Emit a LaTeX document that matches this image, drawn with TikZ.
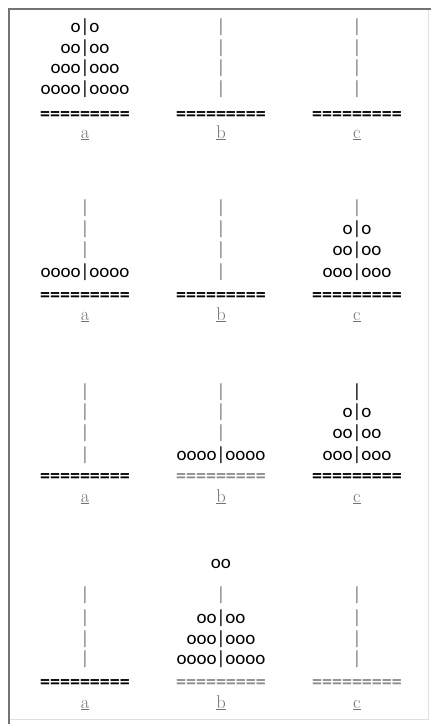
\documentclass[tikz,border=0pt]{standalone}
\usepackage{fontspec}
\newfontfamily\hdisk{Carlito}
\tikzset{
  diskline/.style={anchor=base, inner sep=0pt, font=\hdisk\fontsize{19}{21}\selectfont, text=black},
  pegline/.style={diskline, text=black!50},
  groundline/.style={anchor=base, inner sep=0pt, font=\hdisk\bfseries\fontsize{20}{22}\selectfont, text=black},
  fadedground/.style={groundline, text=black!45},
  pegname/.style={anchor=base, inner sep=0pt, font=\fontsize{18.5}{20}\selectfont, text=black!55},
  frameline/.style={draw=black!55, line width=1.3pt},
  faintframe/.style={draw=black!12, line width=0.8pt}
}
\begin{document}
\begin{tikzpicture}[x=1pt,y=-1pt]
\useasboundingbox (0,0) rectangle (431,724);
% frame
\coordinate (fbl) at (9,724);
\coordinate (ftl) at (9,9);
\coordinate (ftr) at (431,9);
\coordinate (frt) at (428,9);
\coordinate (frb) at (428,719);
\coordinate (fbb) at (9,719);
\draw[faintframe] (frt) -- (frb) -- (fbb);
\draw[frameline] (fbl) -- (ftl) -- (ftr);

% ---------- Row 1 ----------
\node[diskline] (r1a1) at (85,32) {o|o};
\node[diskline] (r1a2) at (85,53) {oo|oo};
\node[diskline] (r1a3) at (85,73) {ooo|ooo};
\node[diskline] (r1a4) at (85,94) {oooo|oooo};
\node[pegline] (r1b1) at (221,32) {|};
\node[pegline] (r1b2) at (221,53) {|};
\node[pegline] (r1b3) at (221,73) {|};
\node[pegline] (r1b4) at (221,94) {|};
\node[pegline] (r1c1) at (357,32) {|};
\node[pegline] (r1c2) at (357,53) {|};
\node[pegline] (r1c3) at (357,73) {|};
\node[pegline] (r1c4) at (357,94) {|};
\node[groundline] (r1ga) at (85,120) {=========};
\node[groundline] (r1gb) at (221,120) {=========};
\node[groundline] (r1gc) at (357,120) {=========};
\node[pegname] (r1la) at (85,138) {\underline{a}};
\node[pegname] (r1lb) at (221,138) {\underline{b}};
\node[pegname] (r1lc) at (357,138) {\underline{c}};

% ---------- Row 2 ----------
\node[pegline] (r2a1) at (85,213) {|};
\node[pegline] (r2a2) at (85,234) {|};
\node[pegline] (r2a3) at (85,255) {|};
\node[diskline] (r2a4) at (85,277) {oooo|oooo};
\node[pegline] (r2b1) at (221,213) {|};
\node[pegline] (r2b2) at (221,234) {|};
\node[pegline] (r2b3) at (221,255) {|};
\node[pegline] (r2b4) at (221,277) {|};
\node[pegline] (r2c1) at (357,213) {|};
\node[diskline] (r2c2) at (357,234) {o|o};
\node[diskline] (r2c3) at (357,255) {oo|oo};
\node[diskline] (r2c4) at (357,277) {ooo|ooo};
\node[groundline] (r2ga) at (85,301) {=========};
\node[groundline] (r2gb) at (221,301) {=========};
\node[groundline] (r2gc) at (357,301) {=========};
\node[pegname] (r2la) at (85,320) {\underline{a}};
\node[pegname] (r2lb) at (221,320) {\underline{b}};
\node[pegname] (r2lc) at (357,320) {\underline{c}};

% ---------- Row 3 ----------
\node[pegline] (r3a1) at (85,397) {|};
\node[pegline] (r3a2) at (85,417) {|};
\node[pegline] (r3a3) at (85,438) {|};
\node[pegline] (r3a4) at (85,460) {|};
\node[pegline] (r3b1) at (221,397) {|};
\node[pegline] (r3b2) at (221,417) {|};
\node[pegline] (r3b3) at (221,438) {|};
\node[diskline] (r3b4) at (221,460) {oooo|oooo};
\node[diskline] (r3c1) at (357,397) {|};
\node[diskline] (r3c2) at (357,417) {o|o};
\node[diskline] (r3c3) at (357,438) {oo|oo};
\node[diskline] (r3c4) at (357,460) {ooo|ooo};
\node[groundline] (r3ga) at (85,482) {=========};
\node[fadedground] (r3gb) at (221,482) {=========};
\node[groundline] (r3gc) at (357,482) {=========};
\node[pegname] (r3la) at (85,502) {\underline{a}};
\node[pegname] (r3lb) at (221,502) {\underline{b}};
\node[pegname] (r3lc) at (357,502) {\underline{c}};

% ---------- Row 4 ----------
\node[diskline] (r4lift) at (221,568) {oo};
\node[pegline] (r4a1) at (85,600) {|};
\node[pegline] (r4a2) at (85,623) {|};
\node[pegline] (r4a3) at (85,644) {|};
\node[pegline] (r4a4) at (85,664) {|};
\node[pegline] (r4b1) at (221,600) {|};
\node[diskline] (r4b2) at (221,623) {oo|oo};
\node[diskline] (r4b3) at (221,644) {ooo|ooo};
\node[diskline] (r4b4) at (221,664) {oooo|oooo};
\node[pegline] (r4c1) at (357,600) {|};
\node[pegline] (r4c2) at (357,623) {|};
\node[pegline] (r4c3) at (357,644) {|};
\node[pegline] (r4c4) at (357,664) {|};
\node[groundline] (r4ga) at (85,688) {=========};
\node[fadedground] (r4gb) at (221,688) {=========};
\node[fadedground] (r4gc) at (357,688) {=========};
\node[pegname] (r4la) at (85,708) {\underline{a}};
\node[pegname] (r4lb) at (221,708) {\underline{b}};
\node[pegname] (r4lc) at (357,708) {\underline{c}};
\end{tikzpicture}
\end{document}
